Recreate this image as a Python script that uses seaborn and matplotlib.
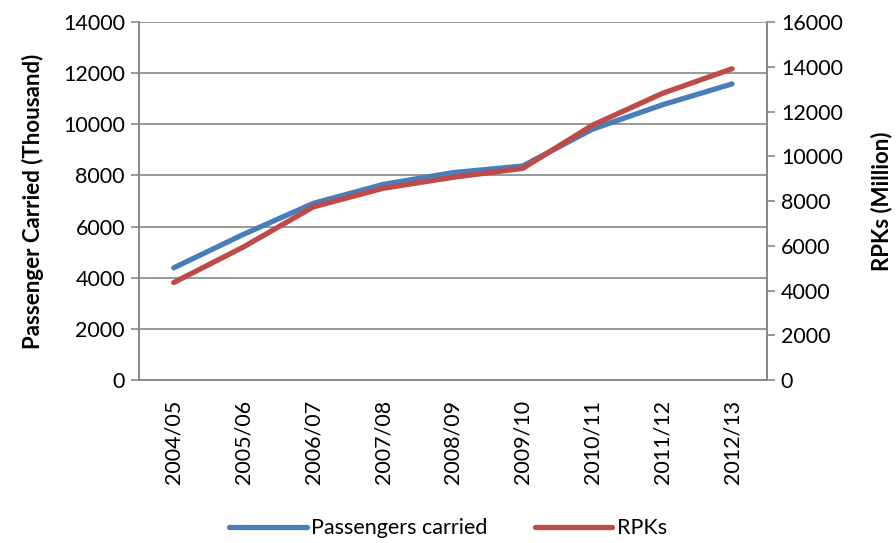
import matplotlib
matplotlib.use("Agg")
import matplotlib.pyplot as plt
import seaborn as sns
import pandas as pd
from matplotlib.lines import Line2D

categories = ["2004/05", "2005/06", "2006/07", "2007/08", "2008/09",
              "2009/10", "2010/11", "2011/12", "2012/13"]
passengers = [4390, 5700, 6910, 7650, 8110, 8370, 9810, 10760, 11580]
rpks = [4360, 5950, 7740, 8570, 9060, 9460, 11390, 12810, 13910]
left_ticks = list(range(0, 14001, 2000))
right_ticks = list(range(0, 16001, 2000))

sns.set_style("white")
plt.rcParams['font.family'] = ['Lato', 'DejaVu Sans']
plt.rcParams['text.color'] = 'black'
plt.rcParams['axes.labelcolor'] = 'black'
plt.rcParams['xtick.color'] = 'black'
plt.rcParams['ytick.color'] = 'black'

blue = "#4A7EBB"
red = "#BE4B48"
grey = "#878787"

df = pd.DataFrame({"cat": categories, "pax": passengers, "rpk": rpks})

fig = plt.figure(figsize=(8.96, 5.43), dpi=100)
ax = fig.add_axes([0.155, 0.300, 0.701, 0.6595])
ax2 = ax.twinx()

sns.lineplot(data=df, x="cat", y="pax", ax=ax, color=blue, lw=3.8, sort=False,
             solid_capstyle="round", zorder=3)
sns.lineplot(data=df, x="cat", y="rpk", ax=ax2, color=red, lw=3.8, sort=False,
             solid_capstyle="round", zorder=3)

n = len(categories)
ax.set_xlim(-0.5, n - 0.5)
ax.set_ylim(0, 14000)
ax2.set_ylim(0, 16000)
ax.set_yticks(left_ticks)
ax2.set_yticks(right_ticks)
ax.set_yticklabels([str(t) for t in left_ticks], fontsize=15.5)
ax2.set_yticklabels([str(t) for t in right_ticks], fontsize=15.5)

ax.set_xticks(range(n))
ax.set_xticklabels(categories, rotation=90, fontsize=15.5)
ax.tick_params(axis="x", which="major", length=0, pad=14)
ax.set_xticks([i - 0.5 for i in range(n + 1)], minor=True)
ax.tick_params(axis="x", which="minor", length=6, color=grey, width=1.2, direction="out")

ax.tick_params(axis="y", length=6, color=grey, labelcolor="black", width=1.2, direction="out", pad=4, left=True)
ax2.tick_params(axis="y", length=6, color=grey, labelcolor="black", width=1.2, direction="out", pad=4, right=True)

ax.grid(axis="y", color=grey, lw=1.2)
ax.set_axisbelow(True)
ax2.grid(False)

for a in (ax, ax2):
    a.spines["top"].set_visible(False)
    for s in ("left", "right", "bottom"):
        a.spines[s].set_color(grey)
        a.spines[s].set_linewidth(1.2)

ax.set_xlabel("")
ax.set_ylabel("Passenger Carried (Thousand)", fontsize=16, fontweight="bold", labelpad=14)
ax2.set_ylabel("RPKs (Million)", fontsize=16, fontweight="bold", labelpad=20,
               rotation=90)

handles = [Line2D([0], [0], color=blue, lw=3.8, solid_capstyle="round"),
           Line2D([0], [0], color=red, lw=3.8, solid_capstyle="round")]
fig.legend(handles, ["Passengers carried", "RPKs"], loc="center",
           bbox_to_anchor=(0.5, 0.027), ncol=2, frameon=False, fontsize=15.5,
           handlelength=3.6, columnspacing=2.2, handletextpad=0.2)

fig.savefig("out.png", dpi=100)
